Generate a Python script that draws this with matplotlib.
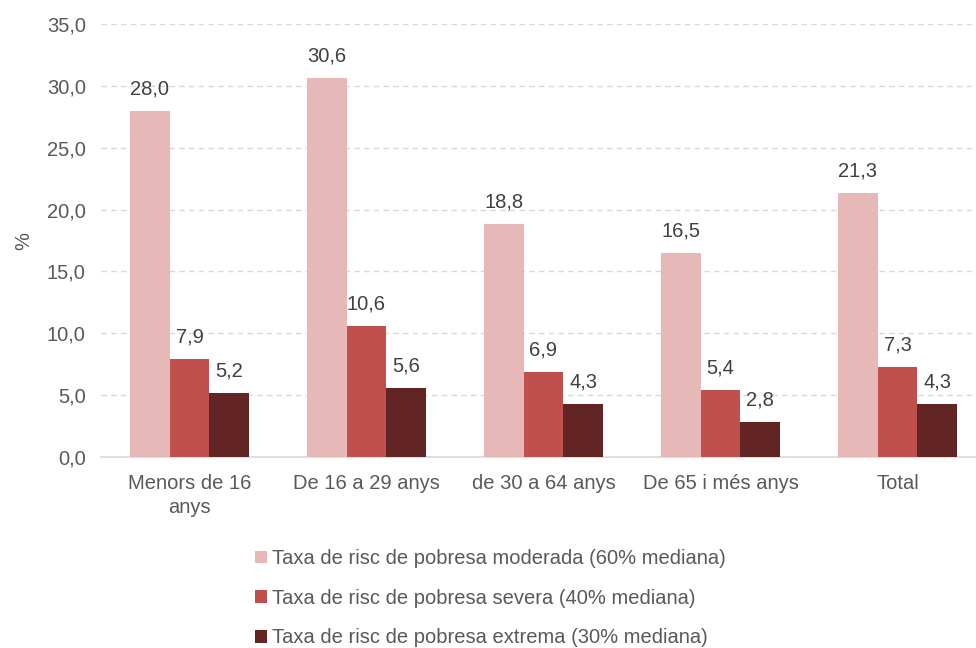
import matplotlib
matplotlib.use("Agg")
import matplotlib.pyplot as plt
import numpy as np

categories = ["Menors de 16\nanys", "De 16 a 29 anys", "de 30 a 64 anys", "De 65 i més anys", "Total"]
series_names = ["Taxa de risc de pobresa moderada (60% mediana)",
                "Taxa de risc de pobresa severa (40% mediana)",
                "Taxa de risc de pobresa extrema (30% mediana)"]
moderada = [28.0, 30.6, 18.8, 16.5, 21.3]
severa = [7.9, 10.6, 6.9, 5.4, 7.3]
extrema = [5.2, 5.6, 4.3, 2.8, 4.3]
yticks = [0, 5, 10, 15, 20, 25, 30, 35]

colors = ["#E6B9B8", "#C0504D", "#632523"]
txt = "#595959"
fs = 14.5

plt.rcParams['font.family'] = ['Liberation Sans', 'DejaVu Sans']

fig = plt.figure(figsize=(9.76, 6.48), dpi=100)
ax = fig.add_axes([101/976, 191/648, 874/976, 433/648])

x = np.arange(len(categories))
w = 0.224
for i, (vals, c, name) in enumerate(zip([moderada, severa, extrema], colors, series_names)):
    bars = ax.bar(x + (i - 1) * w, vals, width=w, color=c, label=name, zorder=3)
    for b, v in zip(bars, vals):
        ax.annotate(f"{v:.1f}".replace(".", ","), (b.get_x() + b.get_width() / 2, v),
                    xytext=(0, 9), textcoords="offset points", ha="center", va="bottom",
                    fontsize=fs, color="#404040")

ax.set_ylim(0, 35)
ax.set_xlim(-0.5, -0.5 + 874 / 177)
ax.set_yticks(yticks)
ax.set_yticklabels([f"{t:.1f}".replace(".", ",") for t in yticks], fontsize=fs, color=txt)
ax.set_xticks(x)
ax.set_xticklabels(categories, fontsize=fs, color=txt, linespacing=1.35)
ax.tick_params(axis="x", length=0, pad=12)
ax.tick_params(axis="y", length=0, pad=11)
ax.yaxis.grid(True, linestyle=(0, (4, 3)), color="#D9D9D9", linewidth=1, zorder=0)
for s in ["top", "right", "left"]:
    ax.spines[s].set_visible(False)
ax.spines["bottom"].set_color("#D9D9D9")
ax.spines["bottom"].set_linewidth(1.2)
ax.set_ylabel("%", fontsize=fs, color=txt, labelpad=10)

fig.legend(loc="upper left", bbox_to_anchor=(255/976, 1 - 549/648), frameon=False,
           fontsize=fs, labelcolor=txt, handlelength=0.6, handleheight=0.6,
           handletextpad=0.25, labelspacing=1.03, borderaxespad=0, borderpad=0)

fig.savefig("out.png", dpi=100)
